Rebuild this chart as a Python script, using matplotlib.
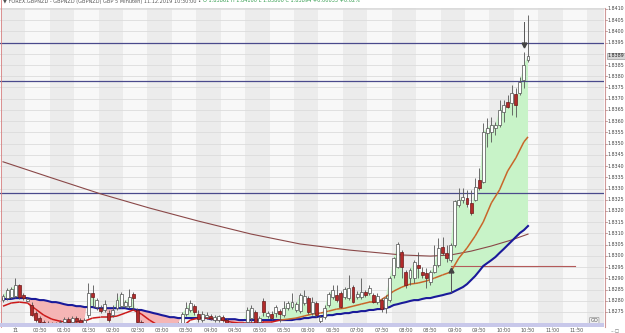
import numpy as np
import matplotlib
matplotlib.use("Agg")
import matplotlib.pyplot as plt
from matplotlib.collections import LineCollection
from matplotlib.patches import Rectangle

# ---------------- data (5-minute GBPNZD bars, 23:45 .. 10:30) ----------------
open_ = [1.82803,1.82812,1.82817,1.82821,1.82870,1.82825,1.82799,1.82781,1.82745,1.82723,
         1.82705,1.82687,1.82701,1.82687,1.82692,1.82705,1.82718,1.82705,1.82723,1.82714,
         1.82701,1.82736,1.82834,1.82772,1.82767,1.82759,1.82745,1.82736,1.82767,1.82776,
         1.82776,1.82776,1.82830,1.82759,1.82705,1.82687,1.82669,1.82660,1.82674,1.82665,
         1.82656,1.82669,1.82665,1.82683,1.82701,1.82741,1.82759,1.82776,1.82741,1.82714,
         1.82727,1.82732,1.82714,1.82714,1.82727,1.82714,1.82696,1.82678,1.82687,1.82674,
         1.82705,1.82723,1.82750,1.82705,1.82799,1.82732,1.82741,1.82745,1.82754,1.82736,
         1.82767,1.82772,1.82759,1.82754,1.82790,1.82812,1.82745,1.82790,1.82709,1.82727,
         1.82781,1.82817,1.82825,1.82834,1.82817,1.82812,1.82861,1.82817,1.82817,1.82839,
         1.82834,1.82825,1.82794,1.82803,1.82767,1.82803,1.82915,1.82950,1.83017,1.82928,
         1.82901,1.82901,1.82959,1.82928,1.82923,1.82883,1.82928,1.82959,1.83039,1.83013,
         1.82981,1.83048,1.83227,1.83249,1.83258,1.83236,1.83249,1.83338,1.83329,1.83548,
         1.83552,1.83570,1.83584,1.83641,1.83686,1.83682,1.83722,1.83726,1.83784,1.83873]
high = [1.82830,1.82857,1.82861,1.82901,1.82874,1.82834,1.82817,1.82794,1.82754,1.82732,
        1.82714,1.82709,1.82705,1.82705,1.82714,1.82727,1.82727,1.82732,1.82732,1.82723,
        1.82723,1.82879,1.82870,1.82812,1.82781,1.82803,1.82759,1.82781,1.82834,1.82839,
        1.82803,1.82852,1.82839,1.82767,1.82714,1.82696,1.82687,1.82678,1.82683,1.82678,
        1.82674,1.82683,1.82687,1.82705,1.82750,1.82794,1.82803,1.82785,1.82759,1.82754,
        1.82750,1.82741,1.82736,1.82736,1.82736,1.82723,1.82705,1.82692,1.82696,1.82705,
        1.82772,1.82781,1.82759,1.82732,1.82812,1.82754,1.82754,1.82781,1.82763,1.82799,
        1.82799,1.82834,1.82794,1.82834,1.82848,1.82821,1.82817,1.82799,1.82736,1.82781,
        1.82839,1.82870,1.82870,1.82843,1.82861,1.82915,1.82870,1.82843,1.82901,1.82848,
        1.82870,1.82834,1.82834,1.82812,1.82825,1.82910,1.82995,1.83062,1.83026,1.82937,
        1.82946,1.82981,1.83017,1.82950,1.82946,1.82937,1.83048,1.83080,1.83084,1.83048,
        1.83057,1.83249,1.83303,1.83303,1.83294,1.83294,1.83347,1.83392,1.83592,1.83615,
        1.83619,1.83597,1.83695,1.83695,1.83717,1.83762,1.83749,1.83798,1.83909,1.84074]
low = [1.82794,1.82803,1.82808,1.82812,1.82808,1.82803,1.82794,1.82732,1.82705,1.82696,
       1.82678,1.82678,1.82674,1.82678,1.82683,1.82696,1.82696,1.82696,1.82701,1.82692,
       1.82692,1.82723,1.82772,1.82759,1.82745,1.82750,1.82705,1.82727,1.82759,1.82767,
       1.82767,1.82767,1.82759,1.82696,1.82683,1.82660,1.82652,1.82647,1.82652,1.82647,
       1.82647,1.82656,1.82656,1.82669,1.82692,1.82732,1.82750,1.82736,1.82705,1.82705,
       1.82718,1.82714,1.82705,1.82705,1.82705,1.82687,1.82669,1.82665,1.82669,1.82665,
       1.82692,1.82701,1.82683,1.82696,1.82732,1.82723,1.82714,1.82727,1.82705,1.82727,
       1.82759,1.82763,1.82750,1.82745,1.82781,1.82741,1.82736,1.82727,1.82692,1.82718,
       1.82772,1.82808,1.82794,1.82767,1.82808,1.82803,1.82790,1.82808,1.82808,1.82817,
       1.82825,1.82790,1.82785,1.82750,1.82745,1.82794,1.82901,1.82946,1.82901,1.82857,
       1.82870,1.82879,1.82901,1.82901,1.82857,1.82870,1.82923,1.82950,1.83004,1.82972,
       1.82972,1.83039,1.83218,1.83236,1.83218,1.83182,1.83244,1.83294,1.83325,1.83485,
       1.83508,1.83539,1.83575,1.83597,1.83659,1.83628,1.83619,1.83717,1.83749,1.83865]
close = [1.82821,1.82848,1.82852,1.82870,1.82817,1.82812,1.82808,1.82736,1.82714,1.82705,
         1.82692,1.82701,1.82687,1.82696,1.82705,1.82718,1.82705,1.82723,1.82709,1.82701,
         1.82714,1.82834,1.82817,1.82803,1.82754,1.82785,1.82714,1.82759,1.82803,1.82830,
         1.82794,1.82817,1.82812,1.82705,1.82692,1.82669,1.82660,1.82674,1.82665,1.82656,
         1.82669,1.82665,1.82683,1.82696,1.82741,1.82767,1.82790,1.82750,1.82718,1.82741,
         1.82736,1.82723,1.82727,1.82732,1.82714,1.82696,1.82678,1.82687,1.82674,1.82701,
         1.82759,1.82767,1.82692,1.82723,1.82750,1.82745,1.82723,1.82772,1.82741,1.82767,
         1.82790,1.82794,1.82785,1.82825,1.82821,1.82750,1.82794,1.82736,1.82727,1.82767,
         1.82830,1.82848,1.82803,1.82772,1.82852,1.82857,1.82794,1.82830,1.82839,1.82825,
         1.82857,1.82794,1.82821,1.82763,1.82812,1.82901,1.82990,1.83053,1.82950,1.82870,
         1.82937,1.82972,1.82946,1.82915,1.82901,1.82928,1.82959,1.83035,1.83013,1.82990,
         1.83048,1.83244,1.83249,1.83262,1.83231,1.83191,1.83307,1.83303,1.83552,1.83570,
         1.83584,1.83584,1.83650,1.83673,1.83664,1.83726,1.83673,1.83775,1.83851,1.83891]

# slow MA (blue), one value per bar
ma_slow = [1.82808,1.82808,1.82808,1.82812,1.82812,1.82812,1.82812,1.82808,1.82808,1.82803,
           1.82803,1.82799,1.82794,1.82794,1.82790,1.82785,1.82781,1.82781,1.82776,1.82776,
           1.82772,1.82772,1.82772,1.82767,1.82767,1.82767,1.82767,1.82767,1.82767,1.82767,
           1.82767,1.82763,1.82763,1.82759,1.82759,1.82754,1.82750,1.82745,1.82741,1.82736,
           1.82732,1.82727,1.82727,1.82723,1.82723,1.82723,1.82723,1.82723,1.82723,1.82723,
           1.82723,1.82718,1.82718,1.82718,1.82718,1.82718,1.82718,1.82718,1.82714,1.82714,
           1.82714,1.82714,1.82714,1.82714,1.82714,1.82714,1.82714,1.82714,1.82714,1.82714,
           1.82714,1.82714,1.82718,1.82718,1.82723,1.82723,1.82727,1.82727,1.82732,1.82732,
           1.82736,1.82736,1.82741,1.82741,1.82745,1.82745,1.82750,1.82750,1.82754,1.82754,
           1.82759,1.82759,1.82763,1.82763,1.82767,1.82772,1.82781,1.82785,1.82790,1.82794,
           1.82799,1.82803,1.82803,1.82808,1.82812,1.82812,1.82817,1.82821,1.82825,1.82830,
           1.82834,1.82843,1.82852,1.82861,1.82874,1.82892,1.82910,1.82932,1.82955,1.82968,
           1.82981,1.82995,1.83013,1.83030,1.83048,1.83066,1.83084,1.83102,1.83115,1.83133]

# fast MA (red / orange), read every second bar
ma_fast_idx = list(range(0, 130, 2)) + [129]
ma_fast = [1.82776,1.82790,1.82794,1.82790,1.82763,1.82736,1.82718,1.82709,1.82705,1.82705,
           1.82709,1.82723,1.82727,1.82727,1.82732,1.82745,1.82759,1.82741,1.82714,1.82692,
           1.82669,1.82665,1.82683,1.82714,1.82723,1.82723,1.82718,1.82714,1.82705,1.82701,
           1.82701,1.82701,1.82705,1.82705,1.82714,1.82718,1.82723,1.82732,1.82741,1.82745,
           1.82754,1.82763,1.82767,1.82776,1.82785,1.82794,1.82794,1.82817,1.82843,1.82861,
           1.82874,1.82879,1.82888,1.82901,1.82915,1.82928,1.82990,1.83035,1.83088,1.83151,
           1.83236,1.83294,1.83378,1.83436,1.83508,1.83530]

# long MA (brown)
ma_long_idx = [0, 12, 24, 36, 48, 61, 73, 85, 98, 105, 110, 115, 120, 125, 129]
ma_long = [1.83419,1.83347,1.83276,1.83213,1.83155,1.83097,1.83053,1.83026,1.83004,1.82999,
           1.83004,1.83021,1.83044,1.83071,1.83097]

level_lines = [1.83950, 1.83780, 1.83281]
red_level = 1.82955
red_level_span = (110, 140.5)
signal_up = (110, 1.82937, 1.82839)      # bar, arrow price, line end
signal_down = (128, 1.83940, 1.84043)

time_labels = ["11","00:30","01:00","01:30","02:00","02:30","03:00","03:30","04:00","04:30",
               "05:00","05:30","06:00","06:30","07:00","07:30","08:00","08:30","09:00","09:30",
               "10:00","10:30","11:00","11:30"]
price_ticks = [1.8275,1.8280,1.8285,1.8290,1.8295,1.8300,1.8305,1.8310,1.8315,1.8320,1.8325,
               1.8330,1.8335,1.8340,1.8345,1.8350,1.8355,1.8360,1.8365,1.8370,1.8375,1.8380,
               1.8385,1.8395,1.8400,1.8405,1.8410]
last_price = 1.83891
header_main = "\u25bc FOREX.GBPNZD - GBPNZD (GBPNZD) GBP 5 Minuten) 11.12.2019 10:30:00 \u2022"
header_ohlc = "O 1.83861 H 1.84100 L 1.83800 C 1.83894 +0.00033 +0.02%"

# ---------------- figure ----------------
W, H = 625, 333
fig = plt.figure(figsize=(W/100, H/100), dpi=100)
fig.patch.set_facecolor("white")
ax = fig.add_axes([0, (H-323)/H, 604/W, 315/H])
ax.set_xlim(-0.74, 147.67)
ax.set_ylim(1.82701, 1.84104)
ax.set_facecolor("#f8f8f8")
for s in ax.spines.values():
    s.set_visible(False)
ax.set_xticks([]); ax.set_yticks([])

n = len(close)
idx = np.arange(n)

# vertical stripes
for k in range(25):
    if k % 2 == 0:
        ax.axvspan(6*k - 0.5, 6*k + 5.5, color="#ececec", zorder=0, lw=0)
# horizontal grid
for p in np.arange(1.8270, 1.8415, 0.0005):
    ax.axhline(p, color="#dcdcdc", lw=0.6, zorder=0.5)

o = np.array(open_); h = np.array(high); l = np.array(low); c = np.array(close)
slow = np.array(ma_slow)

ax.fill_between(idx, slow, c, where=c >= slow, interpolate=True, color="#c8f3c8", lw=0, zorder=1)
ax.fill_between(idx, slow, c, where=c < slow, interpolate=True, color="#f5b5b5", lw=0, zorder=1)

# level lines
for lv in level_lines:
    ax.axhline(lv, color="#4a4a8c", lw=0.9, zorder=2)
ax.plot(red_level_span, [red_level, red_level], color="#b45a5a", lw=0.8, zorder=2)

# MAs
ax.plot(ma_long_idx, ma_long, color="#8a4848", lw=0.8, zorder=2)
ax.plot(idx, slow, color="#1a1a9a", lw=1.5, zorder=2.2)
fi = np.array(ma_fast_idx); fv = np.array(ma_fast)
segs = [[(fi[k], fv[k]), (fi[k+1], fv[k+1])] for k in range(len(fi)-1)]
cols = ["#c8662a" if fv[k+1] > slow[fi[k+1]] else "#cc1a1a" for k in range(len(fi)-1)]
ax.add_collection(LineCollection(segs, colors=cols, linewidths=1.1, zorder=2.3))

# candles
up = c >= o
ax.vlines(idx, l, h, color="#555555", lw=0.6, zorder=3)
bw = 0.72
body_b = np.minimum(o, c)
body_h = np.maximum(np.abs(c - o), 0.000015)
ax.bar(idx[up], body_h[up], bw, bottom=body_b[up], color="white", edgecolor="#505050", lw=0.5, zorder=3.5)
ax.bar(idx[~up], body_h[~up], bw, bottom=body_b[~up], color="#b22a2a", edgecolor="#6a1a1a", lw=0.5, zorder=3.5)

# signal arrows
bi, ap, ae = signal_up
ax.plot([bi, bi], [ae, ap], color="#555555", lw=0.7, zorder=4)
ax.plot([bi], [ap], marker="^", ms=3.5, color="#444444", zorder=4.5, lw=0)
bi, ap, ae = signal_down
ax.plot([bi, bi], [ap, ae], color="#555555", lw=0.7, zorder=4)
ax.plot([bi], [ap], marker="v", ms=3.5, color="#444444", zorder=4.5, lw=0)

# GO badge
ax.text(145.3, 1.82712, "GO", fontsize=3.6, color="#555555", ha="center", va="center",
        bbox=dict(boxstyle="round,pad=0.15", fc="#f0f0f0", ec="#888888", lw=0.4), zorder=6)

# ---------------- frame pieces in figure coords ----------------
def fx(px): return px / W
def fy(py): return 1 - py / H

fig.patches.append(Rectangle((0, fy(327)), fx(604), 4/H, transform=fig.transFigure,
                             fc="#c8c8ea", ec="none", zorder=5))
fig.add_artist(plt.Line2D([fx(604.5), fx(604.5)], [fy(327), fy(8)], color="#d09a9a", lw=0.8))
fig.add_artist(plt.Line2D([0, fx(604)], [fy(8), fy(8)], color="#d8d8d8", lw=0.6))
fig.add_artist(plt.Line2D([fx(0.5), fx(0.5)], [fy(327), fy(0)], color="#d88080", lw=0.6))

# price axis labels
for p in price_ticks:
    yy = ax.transData.transform((0, p))[1] / H
    fig.add_artist(plt.Line2D([fx(604.5), fx(606.5)], [yy, yy], color="#b08080", lw=0.5))
    fig.text(fx(607.5), yy, f"{p:.4f}", fontsize=3.4, color="#444444", va="center", ha="left")
yy = ax.transData.transform((0, last_price))[1] / H
fig.text(fx(607.5), yy, f"{last_price:.4f}", fontsize=3.4, color="#222222", va="center", ha="left",
         bbox=dict(boxstyle="square,pad=0.15", fc="#d6d6d6", ec="#888888", lw=0.4))

# time labels
for k, lab in enumerate(time_labels):
    xb = 3 + 6*k
    xx = ax.transData.transform((xb, 0))[0] / W
    fig.text(xx, fy(330.5), lab, fontsize=3.6, color="#555555", ha="center", va="center")
    fig.add_artist(plt.Line2D([xx, xx], [fy(327), fy(328.5)], color="#999999", lw=0.4))

# header (partly cut at top)
t1 = fig.text(fx(3), fy(1.0), header_main, fontsize=3.6, color="#555555", ha="left", va="center")
fig.canvas.draw()
bb = t1.get_window_extent(renderer=fig.canvas.get_renderer())
fig.text(bb.x1 / W + fx(2), fy(1.0), header_ohlc, fontsize=3.6, color="#2e9a4a", ha="left", va="center")
fig.text(fx(611), fy(331), "---\u25a1", fontsize=3.2, color="#666666", ha="left", va="center")

fig.savefig("out.png", dpi=100)
